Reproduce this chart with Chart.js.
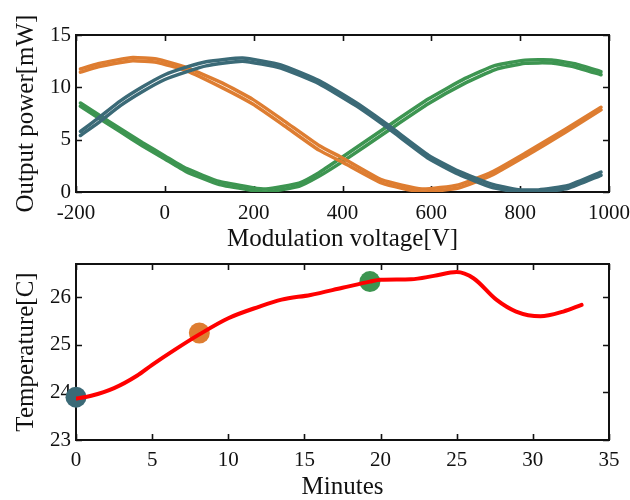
<!DOCTYPE html>
<html><head><meta charset="utf-8">
<script src="https://cdn.jsdelivr.net/npm/chart.js@4/dist/chart.umd.min.js"></script>
<style>
html,body{margin:0;padding:0;background:#fff;overflow:hidden;width:630px;height:500px}
#c1{position:absolute;left:0;top:0}
#c2{position:absolute;left:0;top:250px}
</style></head><body>
<canvas id="c1" width="630" height="260"></canvas>
<canvas id="c2" width="630" height="250"></canvas>
<script>
// ---- Top panel: output power vs modulation voltage (two sweeps per colour) ----
const tealV   = [-190,-150,-100,-50,0,50,93,175,261,347,430,504,594,661,736,796,841,908,982];
const tealUp  = [5.78,7.05,8.7,10.05,11.2,11.95,12.45,12.8,12.15,10.65,8.55,6.35,3.5,2.0,0.75,0.22,0.2,0.62,1.9];
const tealDn  = [5.4,6.6,8.25,9.6,10.75,11.5,12.05,12.5,11.85,10.35,8.25,6.05,3.2,1.7,0.45,0.0,-0.05,0.35,1.6];

const orangeV  = [-190,-150,-110,-72,-19,48,130,198,270,347,400,489,579,661,736,811,900,982];
const orangeUp = [11.75,12.25,12.6,12.85,12.7,11.9,10.4,8.85,6.75,4.45,3.25,1.15,0.28,0.68,1.9,3.7,5.95,8.1];
const orangeDn = [11.45,11.95,12.3,12.55,12.4,11.6,9.95,8.4,6.3,4.0,2.85,0.85,0.0,0.38,1.6,3.4,5.65,7.85];

const greenV  = [-190,-150,-100,-50,0,48,123,198,228,302,347,400,504,594,676,744,811,871,923,982];
const greenUp = [8.5,7.4,6.05,4.7,3.45,2.25,1.0,0.42,0.28,0.85,1.85,3.35,6.35,8.9,10.85,12.1,12.6,12.62,12.25,11.5];
const greenDn = [8.2,7.1,5.75,4.4,3.15,1.95,0.7,0.15,0.0,0.55,1.5,2.9,5.9,8.45,10.4,11.7,12.3,12.32,11.95,11.2];

const topXTicks = [-200,0,200,400,600,800,1000];
const topYTicks = [0,5,10,15];

// ---- Bottom panel: temperature vs minutes ----
const minutes = [0,1,2.5,4,5,6.5,8.1,10,12,13.5,15.4,17.5,19.3,20,22,23.5,25,26.1,27.6,28.9,30.5,32,33.2];
const tempC   = [23.87,23.93,24.09,24.35,24.58,24.9,25.22,25.56,25.8,25.95,26.05,26.2,26.33,26.37,26.38,26.45,26.53,26.4,25.95,25.7,25.6,25.7,25.84];
const markMin  = [0,8.1,19.3];
const markTemp = [23.9,25.25,26.33];
const botXTicks = [0,5,10,15,20,25,30,35];
const botYTicks = [23,24,25,26];

const TEAL='#3b6a77', ORANGE='#de7d31', GREEN='#3d9551', RED='#ff0000';
const markColors=[TEAL,ORANGE,GREEN];
const FAMILY='"Liberation Serif","Times New Roman",serif';
const INK='#111';

function pts(xs,ys){return xs.map((x,i)=>({x:x,y:ys[i]}));}
function line(xs,ys,color){return {data:pts(xs,ys),borderColor:color,backgroundColor:color,borderWidth:3.5,pointRadius:0,showLine:true,tension:0.15,borderCapStyle:'round',borderJoinStyle:'round'};}

const framePlugin={
  id:'frame',
  beforeDatasetsDraw(chart){
    const {ctx,chartArea:a,scales:{x,y}}=chart;
    ctx.save();
    ctx.strokeStyle=INK;
    ctx.lineWidth=1.6;
    const L=6;
    ctx.beginPath();
    x.ticks.forEach(t=>{const p=Math.round(x.getPixelForValue(t.value))+0.5;ctx.moveTo(p,a.bottom);ctx.lineTo(p,a.bottom-L);ctx.moveTo(p,a.top);ctx.lineTo(p,a.top+L);});
    y.ticks.forEach(t=>{const p=Math.round(y.getPixelForValue(t.value))+0.5;ctx.moveTo(a.left,p);ctx.lineTo(a.left+L,p);ctx.moveTo(a.right,p);ctx.lineTo(a.right-L,p);});
    ctx.stroke();
    ctx.lineWidth=2;
    ctx.strokeRect(a.left,a.top,a.right-a.left,a.bottom-a.top);
    ctx.restore();
  }
};

function axis(opts){
  return {
    type:'linear',min:opts.min,max:opts.max,
    grid:{display:false,drawTicks:false},
    border:{display:false},
    afterBuildTicks:s=>{s.ticks=opts.ticks.map(v=>({value:v}));},
    afterFit:s=>{
      if(opts.w!==undefined){ s.width=opts.w; s.paddingTop=0; s.paddingBottom=0; }
      if(opts.h!==undefined){ s.height=opts.h; s.paddingLeft=0; s.paddingRight=0; }
    },
    ticks:{color:INK,font:{family:FAMILY,size:21},padding:opts.tp,maxRotation:0,autoSkip:false,callback:v=>String(v)},
    title:{display:true,text:opts.title,color:INK,font:{family:FAMILY,size:25,lineHeight:1},padding:opts.titlePad}
  };
}

Chart.defaults.animation=false;

new Chart(document.getElementById('c1'),{
  type:'scatter',
  data:{datasets:[
    line(tealV,tealUp,TEAL),line(tealV,tealDn,TEAL),
    line(orangeV,orangeUp,ORANGE),line(orangeV,orangeDn,ORANGE),
    line(greenV,greenUp,GREEN),line(greenV,greenDn,GREEN)
  ]},
  options:{
    responsive:false,animation:false,
    layout:{padding:{left:0,top:35,right:21,bottom:0}},
    plugins:{legend:{display:false},tooltip:{enabled:false}},
    scales:{
      x:axis({min:-200,max:1000,ticks:topXTicks,h:68,tp:9,title:'Modulation voltage[V]',titlePad:{top:0,bottom:8}}),
      y:axis({min:0,max:15,ticks:topYTicks,w:76,tp:5,title:'Output power[mW]',titlePad:{top:14,bottom:0}})
    }
  },
  plugins:[framePlugin]
});

new Chart(document.getElementById('c2'),{
  type:'scatter',
  data:{datasets:[
    {data:pts(minutes,tempC),borderColor:RED,backgroundColor:RED,borderWidth:4,pointRadius:0,showLine:true,cubicInterpolationMode:'monotone',borderCapStyle:'round'},
    {data:pts(markMin,markTemp),backgroundColor:markColors,borderColor:markColors,pointRadius:10.5,pointBorderWidth:0,showLine:false,clip:false}
  ]},
  options:{
    responsive:false,animation:false,
    layout:{padding:{left:0,top:14,right:21,bottom:0}},
    plugins:{legend:{display:false},tooltip:{enabled:false}},
    scales:{
      x:axis({min:0,max:35,ticks:botXTicks,h:60,tp:8,title:'Minutes',titlePad:{top:0,bottom:0}}),
      y:axis({min:23,max:26.7,ticks:botYTicks,w:76,tp:5,title:'Temperature[C]',titlePad:{top:14,bottom:0}})
    }
  },
  plugins:[framePlugin]
});
</script>
</body></html>
